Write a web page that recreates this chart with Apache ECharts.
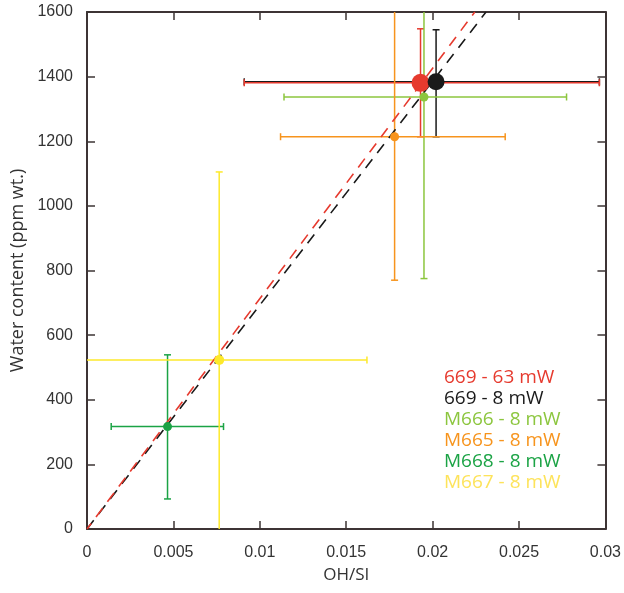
<!DOCTYPE html>
<html>
<head>
<meta charset="utf-8">
<script src="https://cdn.jsdelivr.net/npm/echarts@6/dist/echarts.min.js"></script>
<style>html,body{margin:0;padding:0;background:#fff}#c{width:624px;height:593px}</style>
</head>
<body>
<div id="c"></div>
<script>
// ---- data ----
var samples = ['669 - 63 mW', '669 - 8 mW', 'M666 - 8 mW', 'M665 - 8 mW', 'M668 - 8 mW', 'M667 - 8 mW'];
var ohsi    = [0.0193, 0.0202, 0.0195, 0.0178, 0.00466, 0.00765];
var water   = [1381, 1384, 1337, 1214, 317, 523];
var ohsiLow  = [0.0091, 0.0091, 0.0114, 0.0112, 0.0014, -0.0009];
var ohsiHigh = [0.02965, 0.02965, 0.02775, 0.0242, 0.0079, 0.0162];
var waterLow  = [1214, 1214, 775, 770, 93, -60];
var waterHigh = [1548, 1545, 1900, 1660, 539, 1105];
var sampleColors = ['#e63a2e', '#1a1a1a', '#8cc63e', '#f7941d', '#1ba345', '#fde92b'];
var legendColors = ['#e63a2e', '#1a1a1a', '#8cc63e', '#f7941d', '#1ba345', '#fde35a'];
var markerSizes = [18, 17, 9, 9, 9, 10];
var errDrawOrder = [1, 0, 2, 3, 4, 5];
var fitRedX = [0, 0.02244];
var fitRedY = [0, 1600];
var fitBlackX = [0, 0.02309];
var fitBlackY = [0, 1600];
var xTickLabels = ['0', '0.005', '0.01', '0.015', '0.02', '0.025', '0.03'];
var yTickLabels = ['0', '200', '400', '600', '800', '1000', '1200', '1400', '1600'];

var axisColor = '#3d3435';
var chart = echarts.init(document.getElementById('c'));

var errData = errDrawOrder.map(function (i) {
  return [ohsi[i], water[i], ohsiLow[i], ohsiHigh[i], waterLow[i], waterHigh[i], i];
});

function renderErr(params, api) {
  var i = api.value(6);
  var c = sampleColors[i];
  var p = api.coord([api.value(0), api.value(1)]);
  var xl = api.coord([api.value(2), api.value(1)]);
  var xh = api.coord([api.value(3), api.value(1)]);
  var yl = api.coord([api.value(0), api.value(4)]);
  var yh = api.coord([api.value(0), api.value(5)]);
  var cap = 3.5;
  var st = {stroke: c, lineWidth: 1.5};
  return {
    type: 'group',
    children: [
      {type: 'line', shape: {x1: xl[0], y1: p[1], x2: xh[0], y2: p[1]}, style: st},
      {type: 'line', shape: {x1: p[0], y1: yl[1], x2: p[0], y2: yh[1]}, style: st},
      {type: 'line', shape: {x1: xl[0], y1: p[1] - cap, x2: xl[0], y2: p[1] + cap}, style: st},
      {type: 'line', shape: {x1: xh[0], y1: p[1] - cap, x2: xh[0], y2: p[1] + cap}, style: st},
      {type: 'line', shape: {x1: p[0] - cap, y1: yl[1], x2: p[0] + cap, y2: yl[1]}, style: st},
      {type: 'line', shape: {x1: p[0] - cap, y1: yh[1], x2: p[0] + cap, y2: yh[1]}, style: st}
    ]
  };
}

var series = [];
series.push({
  type: 'custom', name: 'err', renderItem: renderErr, data: errData, clip: true, z: 1,
  encode: {x: 0, y: 1}, silent: true
});
series.push({
  type: 'line', name: 'fitBlack', data: fitBlackX.map(function (x, i) { return [x, fitBlackY[i]]; }),
  showSymbol: false, symbol: 'none', z: 2, silent: true,
  lineStyle: {color: '#1a1a1a', width: 1.6, type: [11, 8]}
});
series.push({
  type: 'line', name: 'fitRed', data: fitRedX.map(function (x, i) { return [x, fitRedY[i]]; }),
  showSymbol: false, symbol: 'none', z: 2, silent: true,
  lineStyle: {color: '#e63a2e', width: 1.6, type: [11, 8], dashOffset: 4}
});
samples.forEach(function (s, i) {
  series.push({
    type: 'scatter', name: s, data: [[ohsi[i], water[i]]], symbolSize: markerSizes[i],
    itemStyle: {color: sampleColors[i], opacity: 1}, z: 3 + i
  });
});

function tickStyle() { return {show: true, inside: true, length: 8, lineStyle: {color: axisColor, width: 1.5}}; }
function lineStyle() { return {show: true, onZero: false, lineStyle: {color: axisColor, width: 2}}; }
function labelFont(fmt, margin) { return {fontFamily: 'Liberation Sans', fontSize: 16, color: '#333', margin: margin, formatter: fmt}; }

var option = {
  animation: false,
  backgroundColor: '#fff',
  grid: {left: 87, right: 17, top: 12, bottom: 64},
  legend: {
    orient: 'vertical', left: 439, top: 368, icon: 'none', itemWidth: 0, itemHeight: 16, itemGap: 2,
    selectedMode: false, padding: 0,
    textStyle: {fontFamily: 'Open Sans', fontSize: 19, lineHeight: 16},
    data: samples.map(function (s, i) { return {name: s, textStyle: {color: legendColors[i], fontFamily: 'Open Sans', fontSize: 19, lineHeight: 16}}; })
  },
  xAxis: [{
    type: 'value', min: 0, max: 0.03, interval: 0.005,
    name: 'OH/SI', nameLocation: 'middle', nameGap: 38,
    nameTextStyle: {fontFamily: 'Open Sans', fontSize: 17, color: '#333'},
    axisLine: lineStyle(), axisTick: tickStyle(), splitLine: {show: false},
    axisLabel: labelFont(function (v) { return xTickLabels[Math.round(v / 0.005)]; }, 16)
  }, {
    type: 'value', min: 0, max: 0.03, interval: 0.005, position: 'top',
    axisLine: lineStyle(), axisTick: tickStyle(), splitLine: {show: false}, axisLabel: {show: false}
  }],
  yAxis: [{
    type: 'value', min: 0, max: 1600, interval: 200,
    name: 'Water content (ppm wt.)', nameLocation: 'middle', nameGap: 50,
    nameTextStyle: {fontFamily: 'Open Sans', fontSize: 18, color: '#333'},
    axisLine: lineStyle(), axisTick: tickStyle(), splitLine: {show: false},
    axisLabel: labelFont(function (v) { return yTickLabels[Math.round(v / 200)]; }, 14)
  }, {
    type: 'value', min: 0, max: 1600, interval: 200, position: 'right',
    axisLine: lineStyle(), axisTick: tickStyle(), splitLine: {show: false}, axisLabel: {show: false}
  }],
  series: series
};
chart.setOption(option);
</script>
</body>
</html>
